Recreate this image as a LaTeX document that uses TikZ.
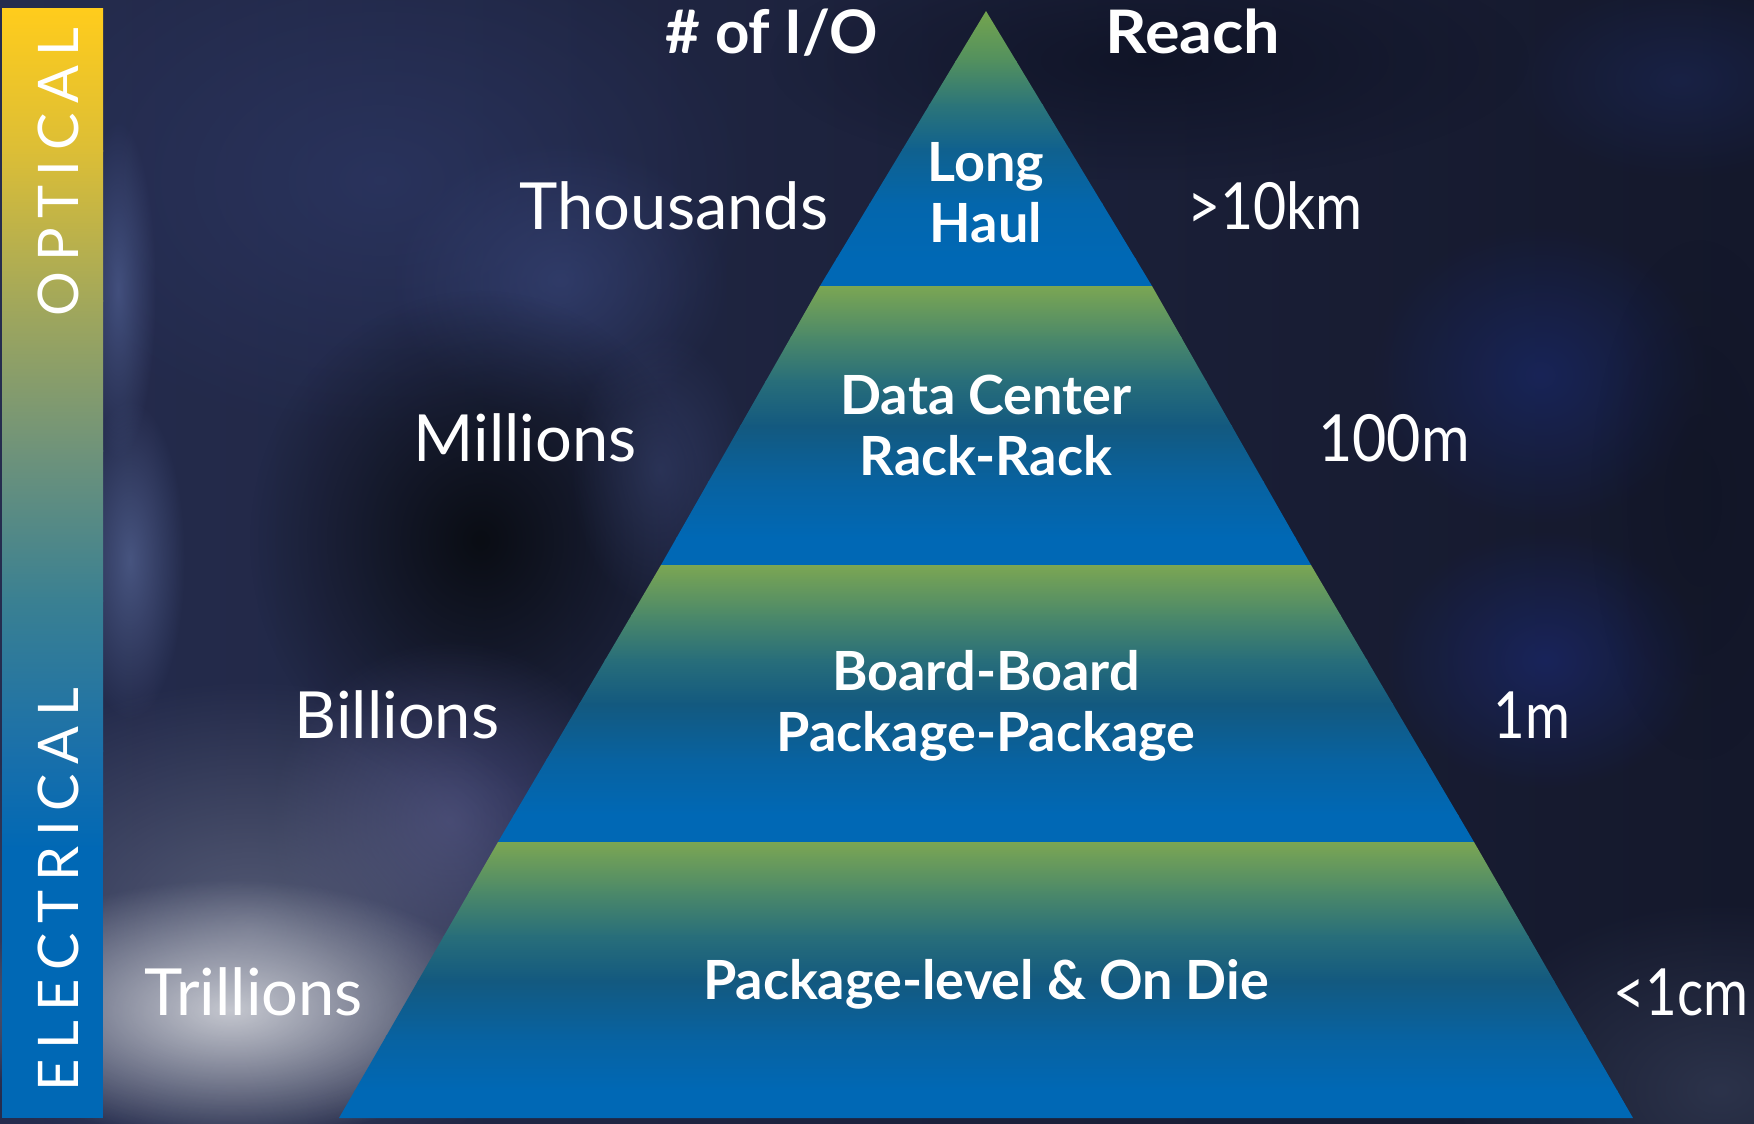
\documentclass[tikz,border=0pt]{standalone}
\usepackage{fontspec}
\setmainfont{Lato}
\newfontfamily\barfont{Lato}[LetterSpace=17]
\usetikzlibrary{fadings}
\tikzfading[name=glow, inner color=transparent!0, outer color=transparent!100]
% background
\definecolor{bgA}{HTML}{1B2036}
\definecolor{bgL}{HTML}{252C4E}
\definecolor{bgM}{HTML}{1D2240}
\definecolor{bgR}{HTML}{14182B}
% bar
\definecolor{b0}{HTML}{FFCC1C}
\definecolor{b1}{HTML}{DCBE36}
\definecolor{b2}{HTML}{A3A85A}
\definecolor{b3}{HTML}{6F937A}
\definecolor{b4}{HTML}{3A8092}
\definecolor{b5}{HTML}{1A70AA}
\definecolor{b6}{HTML}{0068B5}
% lower tiers
\definecolor{l0}{HTML}{7BA653}
\definecolor{l1}{HTML}{4C8969}
\definecolor{l2}{HTML}{286E7A}
\definecolor{l3}{HTML}{13597F}
\definecolor{l4}{HTML}{0862A0}
\definecolor{l5}{HTML}{0068B5}
% top tier
\definecolor{t0}{HTML}{74A44E}
\definecolor{t1}{HTML}{52905F}
\definecolor{t2}{HTML}{2C7579}
\definecolor{t3}{HTML}{10618E}
\definecolor{t4}{HTML}{0366AC}
\definecolor{t5}{HTML}{0068B5}

\newcommand\glow[6]{\definecolor{glowc}{HTML}{#5}\fill[glowc, path fading=glow, fill opacity=#6] (#1,#2) ellipse [x radius=#3, y radius=#4];}
\newcommand\tierbands[5]{%
  \foreach \fa/\fb/\ca/\cb in {0/0.18/0/1, 0.18/0.34/1/2, 0.34/0.5/2/3, 0.5/0.7/3/4, 0.7/0.9/4/5, 0.9/1/5/5}{
    \shade[top color=#5\ca, bottom color=#5\cb] (#3,{#1+\fa*(#2-#1)}) rectangle (#4,{#1+\fb*(#2-#1)+1});
  }}

\begin{document}
\begin{tikzpicture}[x=1pt,y=-1pt,
  lbl/.style={text=white,font=\fontsize{65}{78}\selectfont,anchor=base,inner sep=0pt},
  tiertxt/.style={text=white,font=\bfseries\fontsize{54}{61}\selectfont,anchor=base,inner sep=0pt},
  hdr/.style={text=white,font=\bfseries\fontsize{60}{70}\selectfont,anchor=base,inner sep=0pt},
  bartxt/.style={text=white,font=\barfont\fontsize{56}{60}\selectfont,rotate=90,inner sep=0pt,anchor=center}]
\useasboundingbox (0,0) rectangle (1754,1124);

% ---------- background ----------
\fill[bgA] (0,0) rectangle (1754,1124);
\shade[left color=bgL, middle color=bgM, right color=bgR] (0,0) rectangle (1754,1124);
\glow{380}{180}{380}{260}{2D3866}{0.7}
\glow{560}{280}{170}{140}{38467A}{0.6}
\glow{118}{290}{38}{170}{56679C}{0.6}
\glow{130}{560}{55}{160}{5A6B9C}{0.65}
\glow{480}{540}{230}{250}{0A0D14}{1}
\glow{660}{470}{90}{140}{3A4674}{0.5}
\glow{450}{820}{180}{180}{4E5082}{0.7}
\glow{250}{930}{340}{250}{6B7189}{0.7}
\glow{230}{1010}{270}{130}{D2D4DA}{0.9}
\glow{1150}{60}{380}{120}{0E1224}{0.8}
\glow{1540}{375}{170}{150}{1A2C78}{0.55}
\glow{1545}{660}{160}{130}{1B2C7E}{0.55}
\glow{1680}{80}{170}{100}{1C2A5E}{0.5}
\glow{1720}{1090}{270}{190}{343C55}{0.75}
\glow{1700}{500}{110}{260}{0F1322}{0.5}

% ---------- left bar ----------
\begin{scope}
  \clip (2,9) rectangle (103,1118);
  \shade[top color=b0,bottom color=b1] (2,9) rectangle (103,151);
  \shade[top color=b1,bottom color=b2] (2,150) rectangle (103,301);
  \shade[top color=b2,bottom color=b3] (2,300) rectangle (103,451);
  \shade[top color=b3,bottom color=b4] (2,450) rectangle (103,601);
  \shade[top color=b4,bottom color=b5] (2,600) rectangle (103,751);
  \shade[top color=b5,bottom color=b6] (2,750) rectangle (103,851);
  \fill[b6] (2,850) rectangle (103,1118);
\end{scope}
\node[bartxt] (optical) at (58,172) {OPTICAL};
\node[bartxt] (electrical) at (58,890) {ELECTRICAL};

% ---------- pyramid ----------
\begin{scope}
  \clip (986,11) -- (1152,286) -- (820,286) -- cycle;
  \tierbands{11}{286}{800}{1170}{t}
\end{scope}
\begin{scope}
  \clip (820,286) -- (1152,286) -- (1311,565) -- (661,565) -- cycle;
  \tierbands{286}{565}{650}{1320}{l}
\end{scope}
\begin{scope}
  \clip (661,565) -- (1311,565) -- (1474,842) -- (498,842) -- cycle;
  \tierbands{565}{842}{490}{1480}{l}
\end{scope}
\begin{scope}
  \clip (498,842) -- (1474,842) -- (1633,1118) -- (339,1118) -- cycle;
  \tierbands{842}{1118}{330}{1640}{l}
\end{scope}

% ---------- texts ----------
\node[hdr] (hio) at (772,54) {\# of I/O};
\node[hdr] (hreach) at (1193,54) {\scalebox{1.08}[1]{Reach}};

\node[tiertxt] (tier1) at (986,181) {\begin{tabular}[t]{@{}c@{}}Long\\Haul\end{tabular}};
\node[tiertxt] (tier2) at (986,414) {\begin{tabular}[t]{@{}c@{}}Data Center\\Rack-Rack\end{tabular}};
\node[tiertxt] (tier3) at (986,690) {\begin{tabular}[t]{@{}c@{}}Board-Board\\Package-Package\end{tabular}};
\node[tiertxt] (tier4) at (986,999) {Package-level \& On Die};

\node[lbl] (thousands) at (674,229) {Thousands};
\node[lbl] (millions) at (525,461) {Millions};
\node[lbl] (billions) at (397,738) {Billions};
\node[lbl] (trillions) at (254,1015) {Trillions};

\node[lbl] (r1) at (1275,229) {\scalebox{0.88}[1]{>10km}};
\node[lbl] (r2) at (1394,461) {\scalebox{0.91}[1]{100m}};
\node[lbl] (r3) at (1532,738) {\scalebox{0.84}[1]{1m}};
\node[lbl] (r4) at (1681,1015) {\scalebox{0.84}[1]{<1cm}};
\end{tikzpicture}
\end{document}
